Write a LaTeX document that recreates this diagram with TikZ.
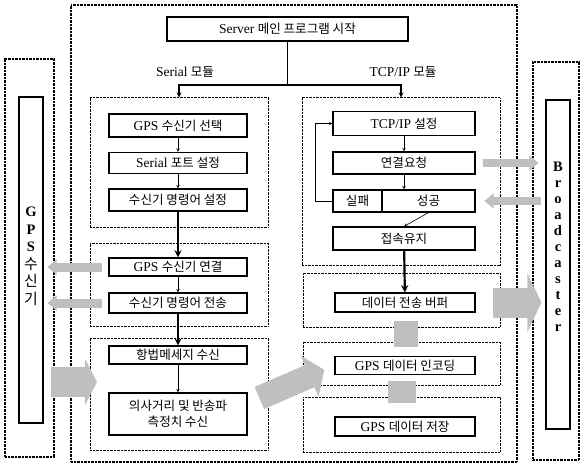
\documentclass[tikz,border=0pt]{standalone}
\usepackage{fontspec}
\setmainfont{Liberation Serif}
\newfontfamily\krfont[Scale=0.93]{Noto Sans CJK KR}
\usetikzlibrary{arrows.meta}

\newcommand{\ko}[1]{{\krfont #1}}

\begin{document}
\begin{tikzpicture}[x=1pt, y=-1pt, >=stealth,
  every node/.style={font=\fontsize{13.5}{15}\selectfont},
  box/.style={draw, line width=1.1pt, minimum width=138pt, minimum height=21pt, inner sep=1pt},
  frame/.style={draw, dash pattern=on 0.7pt off 0.7pt, line width=1pt, inner sep=0pt},
  flow/.style={->, line width=0.6pt},
  bold flow/.style={->, line width=2.2pt},
  wide/.style={draw=gray!50, line width=#1},
  vlabel/.style={align=center, inner sep=0pt, font=\bfseries\fontsize{14.5}{17.5}\selectfont}]
  \useasboundingbox (0,0) rectangle (581,468);

  % outer frames: server program, GPS receiver, broadcaster
  \node[frame, line width=1.3pt, minimum width=446pt, minimum height=457pt] (main) at (294,233.5) {};
  \node[frame, line width=1.3pt, minimum width=49pt, minimum height=398pt] (gpsout) at (29.5,258) {};
  \node[draw, line width=1.1pt, minimum width=24pt, minimum height=326pt] (gpsbox) at (31,260) {};
  \node[vlabel] (gpslbl) at (31,256.5) {G\\P\\S\\\ko{\mdseries\fontsize{16}{17.5}\selectfont 수}\\\ko{\mdseries\fontsize{16}{17.5}\selectfont 신}\\\ko{\mdseries\fontsize{16}{17.5}\selectfont 기}};
  \node[frame, line width=1.3pt, minimum width=46pt, minimum height=398pt] (bcout) at (556,261) {};
  \node[draw, line width=1.1pt, minimum width=24pt, minimum height=329pt] (bcbox) at (558,264.5) {};
  \node[vlabel, font=\bfseries\fontsize{14.5}{16}\selectfont] (bclbl) at (558,247) {B\\r\\o\\a\\d\\c\\a\\s\\t\\e\\r};

  \node[box, minimum width=241pt, minimum height=24pt] (server) at (287.5,29) {Server \ko{메인 프로그램 시작}};
  \node (serlbl) at (185,72) {Serial \ko{모듈}};
  \node (tcplbl) at (403,72) {TCP/IP \ko{모듈}};

  % serial module
  \node[frame, minimum width=178pt, minimum height=129pt] (serA) at (179,162.5) {};
  \node[frame, minimum width=178pt, minimum height=83pt] (serB) at (179,284.5) {};
  \node[frame, minimum width=178pt, minimum height=112pt] (serC) at (179,394) {};
  \node[box, minimum height=23pt] (b1) at (178,125.5) {GPS \ko{수신기 선택}};
  \node[box] (b2) at (178,163) {Serial \ko{포트 설정}};
  \node[box, minimum height=22pt] (b3) at (178,200) {\ko{수신기 명령어 설정}};
  \node[box, minimum height=18pt] (b4) at (178,267) {GPS \ko{수신기 연결}};
  \node[box, minimum height=20pt] (b5) at (178,303) {\ko{수신기 명령어 전송}};
  \node[box, minimum height=18pt] (b6) at (178,355) {\ko{항법메세지 수신}};
  \node[box, minimum height=42pt, align=center, font=\fontsize{13.5}{15.5}\selectfont] (b7) at (178,414) {\ko{의사거리 및 반송파}\\\ko{측정치 수신}};

  % TCP/IP module
  \node[frame, minimum width=198pt, minimum height=167pt] (tcpA) at (401,181.5) {};
  \node[frame, minimum width=197pt, minimum height=54pt] (tcpB) at (401.5,300) {};
  \node[frame, minimum width=197pt, minimum height=43pt] (tcpC) at (401.5,363.5) {};
  \node[frame, minimum width=197pt, minimum height=55pt] (tcpD) at (401.5,424.5) {};
  \node[box, minimum width=142pt, minimum height=24pt] (t1) at (404,123.5) {TCP/IP \ko{설정}};
  \node[box, minimum width=142pt, minimum height=22pt] (t2) at (404,163) {\ko{연결요청}};
  \node[box, minimum width=49pt, minimum height=22pt] (fail) at (357.5,201) {\ko{실패}};
  \node[box, minimum width=93pt, minimum height=22pt] (succ) at (428.5,201) {\ko{성공}};
  \node[box, minimum width=142pt, minimum height=23pt] (t4) at (404,238.5) {\ko{접속유지}};
  \node[box, minimum width=140pt, minimum height=19pt] (t5) at (405,302.5) {\ko{데이터 전송 버퍼}};
  \node[box, minimum width=140pt, minimum height=18pt] (t6) at (405,365.5) {GPS \ko{데이터 인코딩}};
  \node[box, minimum width=140pt, minimum height=19pt] (t7) at (405,426.5) {GPS \ko{데이터 저장}};

  % program start splits into the two modules
  \draw[line width=1.2pt] (server.south) -- (server.south |- 0,85) coordinate (split);
  \draw[->, line width=1.2pt] (split) -| (serA.north);
  \draw[->, line width=1.2pt] (split) -| (tcpA.north);

  \draw[flow] (b1) -- (b2);
  \draw[flow] (b2) -- (b3);
  \draw[bold flow] (b3) -- (b4);
  \draw[flow] (b4) -- (b5);
  \draw[bold flow] (b5) -- (b6);
  \draw[flow] (b6) -- (b7);

  \draw[flow] (t1) -- (t2);
  \draw[flow] (t2.south) -- (t2.south |- succ.north);
  \draw[flow] (fail.west) -- ++(-17,0) |- (t1.west);
  \draw[flow] (succ.south) -- (t4.north);
  \draw[bold flow] (t4) -- (t5);

  % gray data arrows
  \draw[wide=8pt, -{Triangle[width=15pt,length=9pt]}, shorten <=7pt, shorten >=7pt] (t2.east) -- (t2.east -| bcbox.west);
  \draw[wide=8pt, -{Triangle[width=15pt,length=9pt]}, shorten <=4pt, shorten >=9pt] (succ.east -| bcbox.west) -- (succ.east);
  \draw[wide=30pt, -{Triangle[width=58pt,length=14pt]}, shorten <=17pt, shorten >=4pt] (t5.east) -- (t5.east -| bcbox.west);
  \draw[wide=9pt, -{Triangle[width=15pt,length=9pt]}, shorten <=6pt, shorten >=4pt] (b4.west) -- (b4.west -| gpsbox.east);
  \draw[wide=9pt, -{Triangle[width=15pt,length=9pt]}, shorten <=6pt, shorten >=4pt] (b5.west) -- (b5.west -| gpsbox.east);
  \coordinate (navin) at (97,382);
  \draw[wide=30pt, -{Triangle[width=46pt,length=12pt]}, shorten <=7pt] (gpsbox.east |- navin) -- (navin);
  \draw[wide=24pt, -{Triangle[width=44pt,length=16pt]}, shorten <=-10pt, shorten >=11pt] (serC.east) -- (t6.west);
  \draw[wide=24pt, shorten <=-7pt, shorten >=-5pt] ([xshift=4pt]tcpB.south) -- ([xshift=4pt]tcpC.north);
  \draw[wide=28pt, shorten <=-5pt, shorten >=-6pt] (tcpC.south) -- (tcpD.north);
\end{tikzpicture}
\end{document}
